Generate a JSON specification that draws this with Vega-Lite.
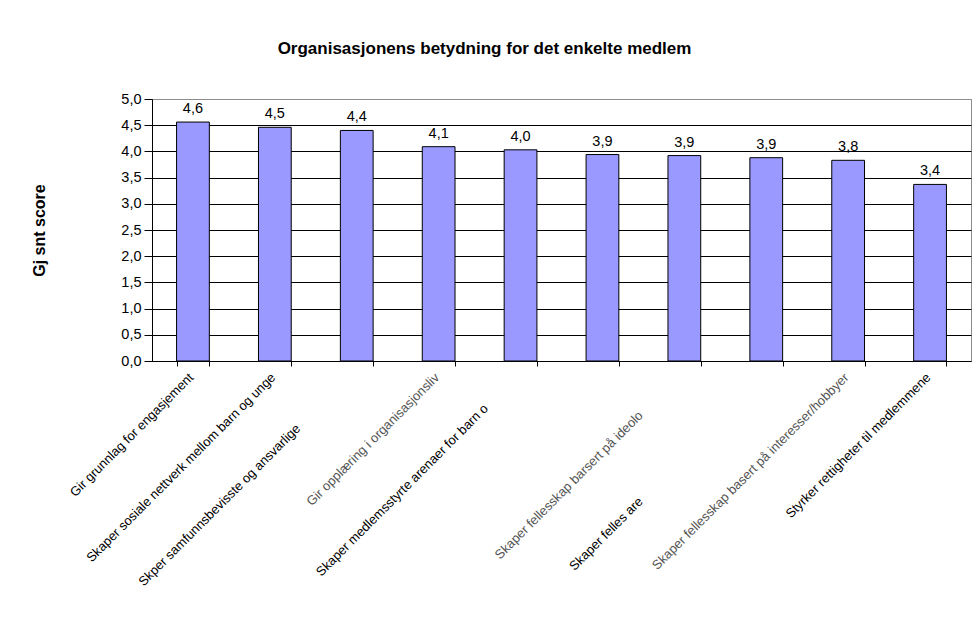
{
  "$schema": "https://vega.github.io/schema/vega-lite/v6.json",
  "autosize": "none",
  "width": 819,
  "height": 262,
  "padding": {"left": 152, "top": 99, "right": 6, "bottom": 258},
  "background": "white",
  "config": {
    "font": "Liberation Sans",
    "locale": {"number": {"decimal": ",", "thousands": " ", "grouping": [3], "currency": ["", ""]}},
    "view": {"stroke": "#8c8c8c", "strokeWidth": 1}
  },
  "title": {
    "text": "Organisasjonens betydning for det enkelte medlem",
    "font": "Liberation Sans",
    "fontSize": 17,
    "fontWeight": "bold",
    "color": "black",
    "anchor": "middle",
    "frame": "group",
    "dx": -77,
    "offset": 33
  },
  "data": {
    "values": [
      {"kategori": "Gir grunnlag for engasjement", "score": 4.56},
      {"kategori": "Skaper sosiale nettverk mellom barn og unge", "score": 4.46},
      {"kategori": "Skper samfunnsbevisste og ansvarlige", "score": 4.40},
      {"kategori": "Gir opplæring i organisasjonsliv", "score": 4.09},
      {"kategori": "Skaper medlemsstyrte arenaer for barn o", "score": 4.03},
      {"kategori": " ", "score": 3.94},
      {"kategori": "Skaper fellesskap barsert på ideolo", "score": 3.92},
      {"kategori": "Skaper felles are", "score": 3.88},
      {"kategori": "Skaper fellesskap basert på interesser/hobbyer", "score": 3.83},
      {"kategori": "Styrker rettigheter til medlemmene", "score": 3.37}
    ]
  },
  "encoding": {
    "x": {
      "field": "kategori",
      "type": "nominal",
      "sort": null,
      "scale": {"paddingInner": 0.6, "paddingOuter": 0.3},
      "axis": {
        "title": null,
        "labelAngle": -45,
        "labelAlign": "right",
        "labelBaseline": "middle",
        "labelFontSize": 13,
        "labelFont": "Liberation Sans",
        "labelColor": {
          "condition": {"test": "datum.value == 'Gir opplæring i organisasjonsliv' || datum.value == 'Skaper fellesskap barsert på ideolo' || datum.value == 'Skaper fellesskap basert på interesser/hobbyer'", "value": "#555555"},
          "value": "black"
        },
        "labelOffset": {
          "condition": [
            {"test": "datum.value == 'Skper samfunnsbevisste og ansvarlige'", "value": -59},
            {"test": "datum.value == 'Skaper medlemsstyrte arenaer for barn o'", "value": -35},
            {"test": "datum.value == 'Skaper fellesskap barsert på ideolo'", "value": -44},
            {"test": "datum.value == 'Skaper felles are'", "value": -126}
          ],
          "value": -2
        },
        "labelPadding": {
          "condition": [
            {"test": "datum.value == 'Skper samfunnsbevisste og ansvarlige'", "value": 60},
            {"test": "datum.value == 'Skaper medlemsstyrte arenaer for barn o'", "value": 40},
            {"test": "datum.value == 'Skaper fellesskap barsert på ideolo'", "value": 47},
            {"test": "datum.value == 'Skaper felles are'", "value": 133}
          ],
          "value": 9
        },
        "labelOverlap": false,
        "labelLimit": 0,
        "tickBand": "extent",
        "tickSize": 5,
        "tickColor": "black",
        "domainColor": "black",
        "grid": false
      }
    },
    "y": {
      "field": "score",
      "type": "quantitative",
      "scale": {"domain": [0, 5], "nice": false},
      "axis": {
        "title": "Gj snt score",
        "titleFont": "Liberation Sans",
        "titleFontSize": 16,
        "titleFontWeight": "bold",
        "titleColor": "black",
        "titlePadding": 73,
        "values": [0, 0.5, 1, 1.5, 2, 2.5, 3, 3.5, 4, 4.5, 5],
        "format": ".1f",
        "labelFontSize": 14.5,
        "labelFont": "Liberation Sans",
        "labelColor": "black",
        "labelPadding": 3,
        "tickSize": 8,
        "tickColor": "black",
        "domainColor": "black",
        "grid": true,
        "gridColor": {"condition": {"test": "datum.value >= 5", "value": "#8c8c8c"}, "value": "black"},
        "gridOpacity": 1,
        "gridWidth": 1
      }
    }
  },
  "layer": [
    {
      "mark": {"type": "bar", "color": "#9999ff", "stroke": "black", "strokeWidth": 1}
    },
    {
      "mark": {"type": "text", "fontSize": 14.5, "font": "Liberation Sans", "color": "black", "baseline": "alphabetic", "dy": -9},
      "encoding": {"text": {"field": "score", "type": "quantitative", "format": ".1f"}}
    }
  ]
}
